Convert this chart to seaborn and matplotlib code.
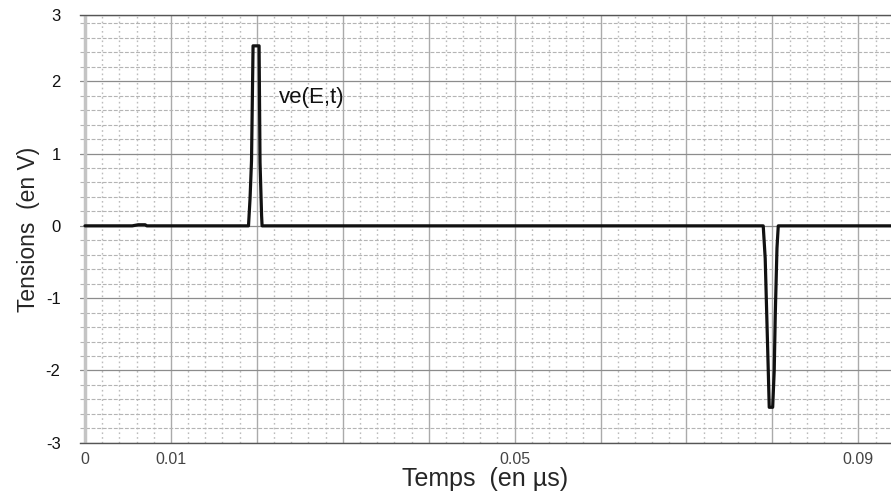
import numpy as np
import pandas as pd
import seaborn as sns
import matplotlib.pyplot as plt
from matplotlib.ticker import MultipleLocator

# signal ve(E,t) (time in µs, voltage in V)
temps = [0.0, 0.0055, 0.0062, 0.0070, 0.0072,
         0.01903, 0.01921, 0.01938, 0.01956, 0.02026, 0.02037, 0.02055, 0.02061,
         0.07893, 0.07916, 0.07951, 0.07963, 0.08003, 0.08021, 0.08033, 0.08053, 0.08068,
         0.0938]
tension = [0.0, 0.0, 0.015, 0.015, 0.0,
           0.0, 0.38, 0.9, 2.49, 2.49, 0.88, 0.15, 0.0,
           0.0, -0.45, -1.97, -2.51, -2.51, -2.0, -1.24, -0.31, 0.0,
           0.0]

xticks = [0, 0.01, 0.02, 0.03, 0.04, 0.05, 0.06, 0.07, 0.08, 0.09]
xlabels = ['0', '0.01', '', '', '', '0.05', '', '', '', '0.09']
ylabels = ['-3', '-2', '-1', '0', '1', '2', '3']

df = pd.DataFrame({'t': temps, 'v': tension})

sns.set_style('white')
plt.rcParams['font.family'] = ['Liberation Sans', 'DejaVu Sans']

fig = plt.figure(figsize=(8.91, 4.97), dpi=100)
ax = fig.add_axes([80 / 891, 1 - 442.7 / 497, 811 / 891, 427.2 / 497])

xmin, xmax = -0.00058, 0.0938
ymin, ymax = -3.0, 2.91

# grille
ax.xaxis.set_minor_locator(MultipleLocator(0.002))
ax.yaxis.set_minor_locator(MultipleLocator(0.2))
ax.grid(which='minor', axis='x', color='#bcbcbc', linestyle=(0, (1.2, 2.2)), linewidth=1.0)
ax.grid(which='minor', axis='y', color='#b4b4b4', linestyle=(0, (3.5, 1.5)), linewidth=0.8)
ax.grid(which='major', axis='x', color='#aaaaaa', linestyle='-', linewidth=1.0)
ax.grid(which='major', axis='y', color='#8c8c8c', linestyle='-', linewidth=0.9)
ax.axvline(0, color='#c4c4c4', linewidth=2.5, zorder=1)
ax.set_axisbelow(True)

sns.lineplot(data=df, x='t', y='v', color='#111111', linewidth=2.3,
             estimator=None, sort=False, ax=ax, zorder=3)

ax.set_xlim(xmin, xmax)
ax.set_ylim(ymin, ymax)
ax.set_xticks(xticks, labels=xlabels)
ax.set_yticks([-3, -2, -1, 0, 1, 2, ymax], labels=ylabels)
ax.tick_params(axis='x', which='major', direction='out', length=5, width=1,
               color='#888888', labelsize=11.5, labelcolor='#444444', pad=2)
ax.tick_params(axis='y', which='major', direction='out', length=4, width=0.8,
               color='#888888', labelsize=12, labelcolor='#111111', pad=10)
ax.tick_params(which='minor', length=0)

for s in ['left', 'right']:
    ax.spines[s].set_visible(False)
for s in ['top', 'bottom']:
    ax.spines[s].set_color('#555555')
    ax.spines[s].set_linewidth(1.0)

ax.text(0.0226, 1.78, 've(E,t)', fontsize=16, va='center', ha='left', color='#111111')

ax.set_xlabel('Temps  (en µs)', fontsize=18, labelpad=0)
ax.set_ylabel('Tensions  (en V)', fontsize=16.5, labelpad=4)

fig.savefig('out.png', dpi=100)
